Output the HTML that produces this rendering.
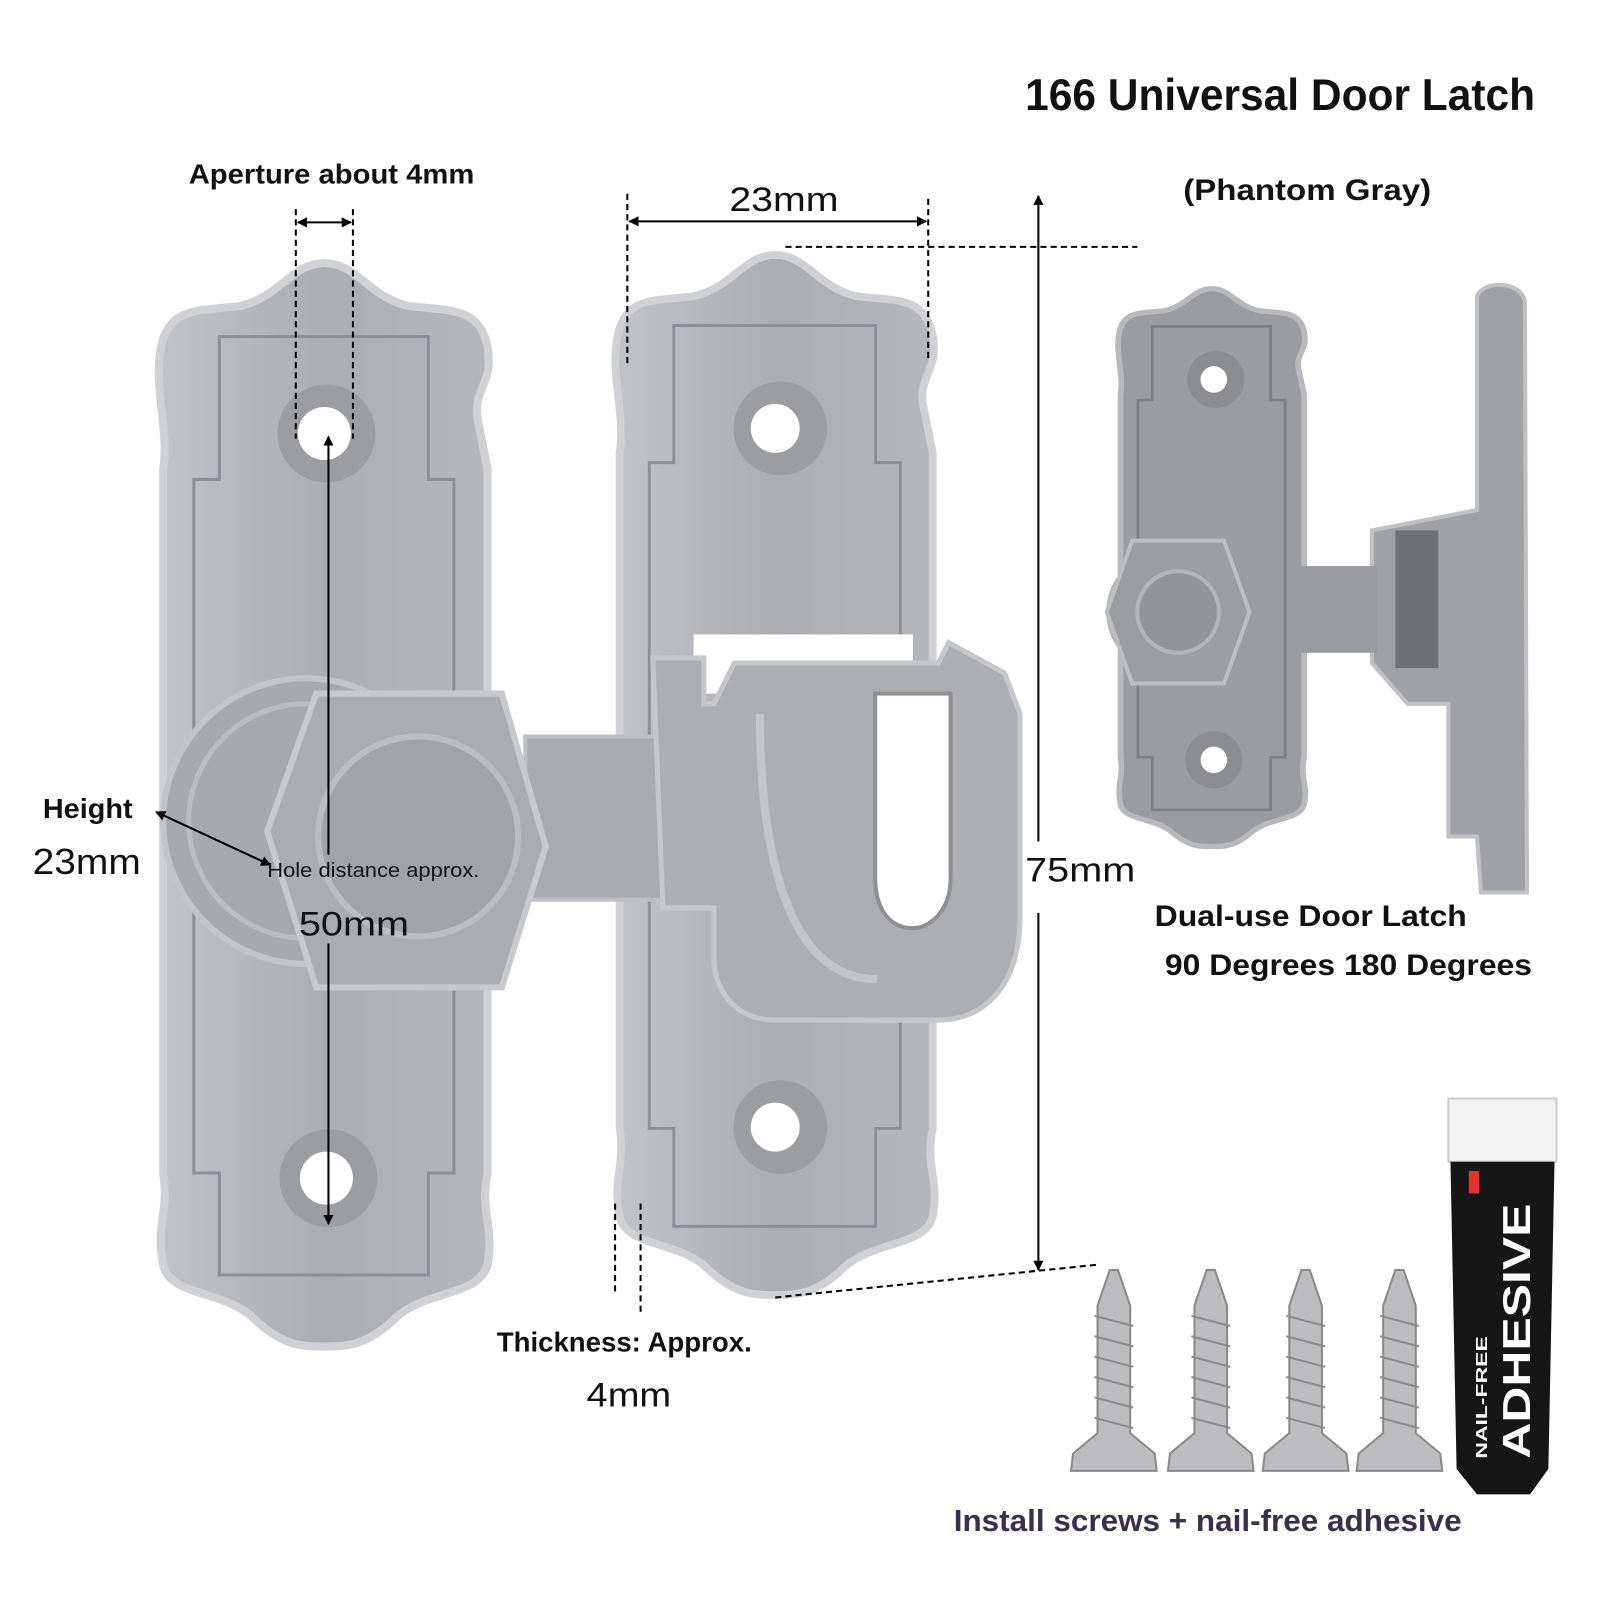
<!DOCTYPE html>
<html><head><meta charset="utf-8"><style>
html,body{margin:0;padding:0;background:#fff;width:1600px;height:1600px;overflow:hidden}
svg{display:block}
</style></head><body>
<svg width="1600" height="1600" viewBox="0 0 1568.6 1568.6" xmlns="http://www.w3.org/2000/svg" font-family="Liberation Sans, sans-serif">
<defs>
<linearGradient id="pg" x1="0" x2="1" y1="0" y2="0">
<stop offset="0" stop-color="#c2c3c7"/><stop offset="0.5" stop-color="#acadb1"/><stop offset="1" stop-color="#b6b7bb"/>
</linearGradient>
<path id="plate" d="M318,258 C350,258 360,290 400,300 C440,305 470,300 478,340 C485,380 460,380 470,420 L478,460 L478,1150 C470,1190 485,1200 478,1240 C470,1270 420,1265 390,1290 C360,1320 340,1320 318,1320 C296,1320 276,1320 246,1290 C216,1265 166,1270 160,1240 C152,1200 166,1190 160,1150 L160,460 C166,420 150,380 158,340 C166,300 196,305 236,300 C276,290 286,258 318,258 Z"/>
<marker id="ar" markerWidth="10" markerHeight="10" refX="9" refY="5" orient="auto-start-reverse" markerUnits="userSpaceOnUse"><path d="M0,0 L10,5 L0,10 Z" fill="#000"/></marker>
</defs>

<!-- left plate -->
<use href="#plate" fill="url(#pg)" stroke="#d0d1d4" stroke-width="8"/>
<path d="M215,330 L420,330 L420,470 L445,470 L445,1150 L420,1150 L420,1250 L215,1250 L215,1150 L190,1150 L190,470 L215,470 Z" fill="none" stroke="#8e8f94" stroke-width="3"/>
<circle cx="320" cy="425" r="48" fill="#9c9da1"/><circle cx="318" cy="425" r="26" fill="#fff"/>
<circle cx="322" cy="1155" r="48" fill="#9c9da1"/><circle cx="320" cy="1155" r="26" fill="#fff"/>

<!-- middle plate -->
<g transform="translate(760,250) scale(0.965,0.96) translate(-318,-258)">
<use href="#plate" fill="url(#pg)" stroke="#d0d1d4" stroke-width="8"/>
<path d="M215,330 L420,330 L420,470 L445,470 L445,1150 L420,1150 L420,1250 L215,1250 L215,1150 L190,1150 L190,470 L215,470 Z" fill="none" stroke="#8e8f94" stroke-width="3"/>
</g>
<rect x="680" y="622" width="215" height="58" fill="#fff"/>
<circle cx="765" cy="420" r="46" fill="#9c9da1"/><circle cx="760" cy="420" r="24" fill="#fff"/>
<circle cx="765" cy="1105" r="46" fill="#9c9da1"/><circle cx="760" cy="1105" r="24" fill="#fff"/>

<!-- collar + hex -->
<circle cx="300" cy="805" r="140" fill="#a8a9ad" stroke="#c3c4c8" stroke-width="6"/>
<circle cx="300" cy="805" r="115" fill="none" stroke="#bcbdc1" stroke-width="5"/>
<rect x="515" y="722" width="190" height="160" fill="#a9aaae" stroke="#bfc0c4" stroke-width="4"/>
<polygon points="262,815 310,680 492,680 535,830 492,968 310,968" fill="#abacb0" stroke="#c8c9cc" stroke-width="6"/>
<circle cx="410" cy="820" r="98" fill="#a2a3a7" stroke="#bcbdc1" stroke-width="6"/>
<!-- hook -->
<path d="M640,645 L690,645 L690,690 L700,690 L720,650 L920,650 L930,630 L985,660 L1000,700 L1000,900 C1000,960 970,1000 920,1000 L760,1000 C720,1000 700,970 700,940 L700,890 L650,890 Z" fill="#adaeb2" stroke="#c6c7ca" stroke-width="5"/>
<path d="M858,680 L932,680 L932,860 C932,895 910,910 895,910 C875,910 858,895 858,860 Z" fill="#fff" stroke="#8f9094" stroke-width="4"/>
<path d="M745,700 C745,800 760,960 860,960" fill="none" stroke="#c4c5c8" stroke-width="8"/>

<!-- right small latch -->
<g transform="translate(1188,283) scale(0.566,0.515) translate(-318,-258)">
<use href="#plate" fill="#9b9ca0" stroke="#b8b9bc" stroke-width="10"/>
<path d="M215,330 L420,330 L420,470 L445,470 L445,1150 L420,1150 L420,1250 L215,1250 L215,1150 L190,1150 L190,470 L215,470 Z" fill="none" stroke="#7e7f83" stroke-width="5"/>
</g>
<circle cx="1192" cy="372" r="28" fill="#8c8d91"/><circle cx="1190" cy="372" r="13" fill="#fff"/>
<circle cx="1190" cy="745" r="28" fill="#8c8d91"/><circle cx="1190" cy="745" r="13" fill="#fff"/>
<path d="M1448,290 C1455,275 1490,275 1495,295 L1497,875 L1452,875 L1448,820 L1420,820 L1420,690 L1380,690 L1345,650 L1345,520 L1448,500 Z" fill="#a0a1a5" stroke="#c0c1c4" stroke-width="4"/>
<rect x="1270" y="555" width="80" height="85" fill="#9a9b9f"/>
<rect x="1368" y="520" width="42" height="135" fill="#6f7074"/>
<circle cx="1145" cy="600" r="58" fill="#98999d" stroke="#b3b4b7" stroke-width="5"/>
<polygon points="1085,600 1110,530 1200,530 1225,600 1200,670 1110,670" fill="#9c9da1" stroke="#bdbec1" stroke-width="4"/>
<circle cx="1155" cy="600" r="40" fill="#939498" stroke="#b4b5b8" stroke-width="4"/>

<!-- screws -->
<g fill="#bdbdbf" stroke="#8a8a8c" stroke-width="2">
<g transform="translate(1092,0)"><path d="M-4,1245 L4,1245 L16,1280 L16,1405 L40,1425 L42,1442 L-42,1442 L-40,1425 L-16,1405 L-16,1280 Z"/><path d="M-19,1290 L19,1300 M-19,1310 L19,1320 M-19,1330 L19,1340 M-19,1350 L19,1360 M-19,1370 L19,1380 M-19,1390 L19,1400" fill="none"/></g>
<g transform="translate(1187,0)"><path d="M-4,1245 L4,1245 L16,1280 L16,1405 L40,1425 L42,1442 L-42,1442 L-40,1425 L-16,1405 L-16,1280 Z"/><path d="M-19,1290 L19,1300 M-19,1310 L19,1320 M-19,1330 L19,1340 M-19,1350 L19,1360 M-19,1370 L19,1380 M-19,1390 L19,1400" fill="none"/></g>
<g transform="translate(1280,0)"><path d="M-4,1245 L4,1245 L16,1280 L16,1405 L40,1425 L42,1442 L-42,1442 L-40,1425 L-16,1405 L-16,1280 Z"/><path d="M-19,1290 L19,1300 M-19,1310 L19,1320 M-19,1330 L19,1340 M-19,1350 L19,1360 M-19,1370 L19,1380 M-19,1390 L19,1400" fill="none"/></g>
<g transform="translate(1372,0)"><path d="M-4,1245 L4,1245 L16,1280 L16,1405 L40,1425 L42,1442 L-42,1442 L-40,1425 L-16,1405 L-16,1280 Z"/><path d="M-19,1290 L19,1300 M-19,1310 L19,1320 M-19,1330 L19,1340 M-19,1350 L19,1360 M-19,1370 L19,1380 M-19,1390 L19,1400" fill="none"/></g>
</g>
<!-- adhesive tube -->
<rect x="1420" y="1077" width="106" height="62" fill="#f2f2f2" stroke="#ccc" stroke-width="2"/>
<path d="M1422,1139 L1524,1139 L1518,1440 L1500,1465 L1448,1465 L1428,1440 Z" fill="#151515"/>
<rect x="1440" y="1148" width="10" height="22" fill="#d33"/>
<text x="0" y="0" transform="translate(1500,1430) rotate(-90)" fill="#fff" font-weight="bold" font-size="38" textLength="250" lengthAdjust="spacingAndGlyphs">ADHESIVE</text>
<text x="0" y="0" transform="translate(1458,1430) rotate(-90)" fill="#fff" font-weight="bold" font-size="15" textLength="120" lengthAdjust="spacingAndGlyphs">NAIL-FREE</text>

<!-- dimension lines -->
<g stroke="#000" stroke-width="2" fill="none">
<line x1="290" y1="205" x2="290" y2="430" stroke-dasharray="6,4"/>
<line x1="346" y1="205" x2="346" y2="430" stroke-dasharray="6,4"/>
<line x1="292" y1="218" x2="344" y2="218" marker-start="url(#ar)" marker-end="url(#ar)"/>
<line x1="615" y1="190" x2="615" y2="360" stroke-dasharray="6,4"/>
<line x1="910" y1="195" x2="910" y2="355" stroke-dasharray="6,4"/>
<line x1="617" y1="217" x2="908" y2="217" marker-start="url(#ar)" marker-end="url(#ar)"/>
<line x1="770" y1="242" x2="1115" y2="242" stroke-dasharray="6,4"/>
<line x1="1018" y1="192" x2="1018" y2="825" marker-start="url(#ar)"/>
<line x1="1018" y1="895" x2="1018" y2="1245" marker-end="url(#ar)"/>
<line x1="760" y1="1272" x2="1075" y2="1240" stroke-dasharray="6,4"/>
<line x1="322" y1="428" x2="322" y2="838" marker-start="url(#ar)"/>
<line x1="322" y1="925" x2="322" y2="1200" marker-end="url(#ar)"/>
<line x1="153" y1="796" x2="265" y2="848" marker-start="url(#ar)" marker-end="url(#ar)"/>
<line x1="603" y1="1180" x2="603" y2="1270" stroke-dasharray="6,4"/>
<line x1="628" y1="1180" x2="628" y2="1290" stroke-dasharray="6,4"/>
</g>

<!-- text -->
<g fill="#111">
<text x="1005" y="108" font-size="44" font-weight="bold" textLength="500" lengthAdjust="spacingAndGlyphs">166 Universal Door Latch</text>
<text x="1160" y="196" font-size="29" font-weight="bold" textLength="243" lengthAdjust="spacingAndGlyphs">(Phantom Gray)</text>
<text x="185" y="180" font-size="27" font-weight="bold" textLength="280" lengthAdjust="spacingAndGlyphs">Aperture about 4mm</text>
<text x="715" y="207" font-size="34" textLength="107" lengthAdjust="spacingAndGlyphs">23mm</text>
<text x="42" y="802" font-size="27" font-weight="bold" textLength="88" lengthAdjust="spacingAndGlyphs">Height</text>
<text x="32" y="857" font-size="35" textLength="106" lengthAdjust="spacingAndGlyphs">23mm</text>
<text x="262" y="860" font-size="20" textLength="208" lengthAdjust="spacingAndGlyphs">Hole distance approx.</text>
<text x="293" y="917" font-size="34" textLength="108" lengthAdjust="spacingAndGlyphs">50mm</text>
<text x="1005" y="864" font-size="34" textLength="108" lengthAdjust="spacingAndGlyphs">75mm</text>
<text x="1132" y="908" font-size="29" font-weight="bold" textLength="306" lengthAdjust="spacingAndGlyphs">Dual-use Door Latch</text>
<text x="1142" y="956" font-size="29" font-weight="bold" textLength="360" lengthAdjust="spacingAndGlyphs">90 Degrees 180 Degrees</text>
<text x="487" y="1325" font-size="27" font-weight="bold" textLength="250" lengthAdjust="spacingAndGlyphs">Thickness: Approx.</text>
<text x="575" y="1379" font-size="34" textLength="83" lengthAdjust="spacingAndGlyphs">4mm</text>
<text x="935" y="1501" font-size="30" font-weight="bold" fill="#3a3048" textLength="498" lengthAdjust="spacingAndGlyphs">Install screws + nail-free adhesive</text>
</g>
</svg>
</body></html>
